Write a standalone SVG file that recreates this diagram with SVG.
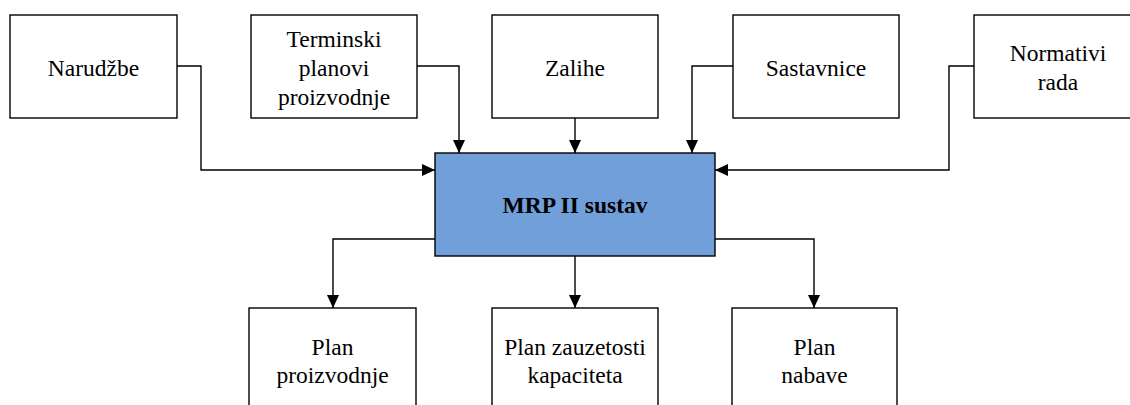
<svg xmlns="http://www.w3.org/2000/svg" width="1130" height="405" viewBox="0 0 1130 405">
<style>
.box{fill:#ffffff;stroke:#000000;stroke-width:1.4}
.core{fill:#719FDA;stroke:#000000;stroke-width:1.4}
text{font-family:'Liberation Serif','DejaVu Serif',serif;font-size:23.5px;fill:#000000;text-anchor:middle}
.b{font-weight:bold}
.c{fill:none;stroke:#000000;stroke-width:1.4}
</style>
<defs>
<marker id="ah" markerUnits="userSpaceOnUse" markerWidth="13" markerHeight="12" refX="13" refY="6" orient="auto">
<path d="M0,0 L13,6 L0,12 z" fill="#000000"/>
</marker>
</defs>
<rect width="1130" height="405" fill="#ffffff"/>
<g id="connectors">
<path class="c" d="M177,66 H201 V170 H435" marker-end="url(#ah)"/>
<path class="c" d="M417,66 H459 V153" marker-end="url(#ah)"/>
<path class="c" d="M575,118 V153" marker-end="url(#ah)"/>
<path class="c" d="M733,66 H692 V153" marker-end="url(#ah)"/>
<path class="c" d="M974,66 H949 V170 H715" marker-end="url(#ah)"/>
<path class="c" d="M435,239 H333 V308" marker-end="url(#ah)"/>
<path class="c" d="M575,256 V308" marker-end="url(#ah)"/>
<path class="c" d="M715,239 H814 V308" marker-end="url(#ah)"/>
</g>
<g id="narudzbe" font-family="Liberation Serif, serif">
<rect class="box" x="10" y="15" width="167" height="103"/>
<text x="93.5" y="76">Narudžbe</text>
</g>
<g id="terminski" font-family="Liberation Serif, serif">
<rect class="box" x="251" y="15" width="166" height="103"/>
<text x="334" y="46.5">Terminski</text>
<text x="334" y="75.5">planovi</text>
<text x="334" y="104.5">proizvodnje</text>
</g>
<g id="zalihe" font-family="Liberation Serif, serif">
<rect class="box" x="492" y="15" width="166" height="103"/>
<text x="575" y="75.5">Zalihe</text>
</g>
<g id="sastavnice" font-family="Liberation Serif, serif">
<rect class="box" x="733" y="15" width="166" height="103"/>
<text x="816" y="75.5">Sastavnice</text>
</g>
<g id="normativi" font-family="Liberation Serif, serif">
<rect class="box" x="974" y="15" width="167" height="103"/>
<text x="1058" y="60.5">Normativi</text>
<text x="1058" y="89.5">rada</text>
</g>
<g id="mrp" font-family="Liberation Serif, serif">
<rect class="core" x="435" y="153" width="280" height="103"/>
<text class="b" x="575" y="212.5">MRP II sustav</text>
</g>
<g id="plan-proizvodnje" font-family="Liberation Serif, serif">
<rect class="box" x="249" y="308" width="167" height="103"/>
<text x="332.5" y="354.5">Plan</text>
<text x="332.5" y="382.5">proizvodnje</text>
</g>
<g id="plan-kapaciteta" font-family="Liberation Serif, serif">
<rect class="box" x="492" y="308" width="166" height="103"/>
<text x="575" y="354.5">Plan zauzetosti</text>
<text x="575" y="382.5">kapaciteta</text>
</g>
<g id="plan-nabave" font-family="Liberation Serif, serif">
<rect class="box" x="732" y="308" width="165" height="103"/>
<text x="814.5" y="354.5">Plan</text>
<text x="814.5" y="382.5">nabave</text>
</g>
</svg>
